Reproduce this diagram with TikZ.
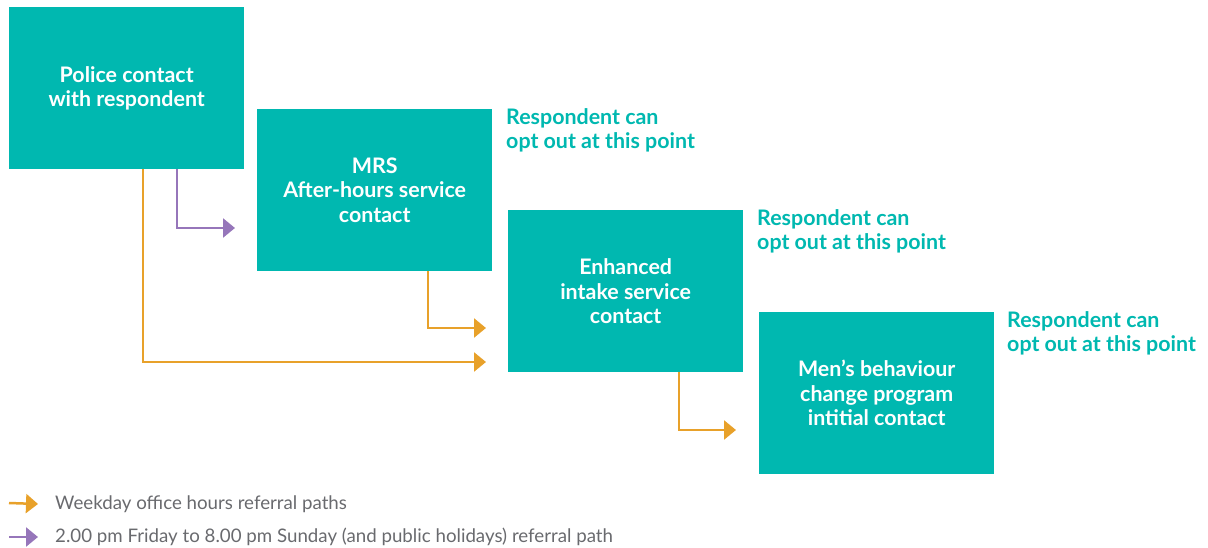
\documentclass[tikz,border=0pt]{standalone}
\usepackage{fontspec}
\setmainfont{Lato}
\usetikzlibrary{arrows.meta,positioning}
\definecolor{teal}{RGB}{0,184,176}
\definecolor{orng}{RGB}{232,161,42}
\definecolor{purp}{RGB}{150,118,186}
\definecolor{legtxt}{RGB}{105,106,110}
\tikzset{
  box/.style={fill=teal,draw=none,minimum width=235pt,minimum height=162pt,
    anchor=north west,align=center,text=white,inner sep=0pt,
    font=\fontsize{21.4}{24.5}\selectfont\bfseries},
  note/.style={anchor=north west,align=left,text=teal,inner sep=0pt,
    font=\fontsize{21.4}{24.5}\selectfont\bfseries},
  legend/.style={anchor=west,text=legtxt,inner sep=0pt,
    font=\fontsize{18.7}{22}\selectfont},
  path/.style={line width=2.5pt,-{Triangle[length=12pt,width=19pt]}},
  orangearr/.style={path,draw=orng},
  purplearr/.style={path,draw=purp},
}
\begin{document}
\begin{tikzpicture}[x=1pt,y=-1pt]
  \useasboundingbox (0,0) rectangle (1208,548);

  % boxes
  \node [box] (police) at (9,7) {Police contact\\with respondent};
  \node [box] (mrs) at (257,109) {MRS\\After-hours service\\contact};
  \node [box] (intake) at (508,210) {Enhanced\\intake service\\contact};
  \node [box] (mbcp) at (759,312) {Men’s behaviour\\change program\\intitial contact};

  % opt out notes
  \node [note] (n1) at (506,108) {Respondent can\\opt out at this point};
  \node [note] (n2) at (757,209) {Respondent can\\opt out at this point};
  \node [note] (n3) at (1007,311) {Respondent can\\opt out at this point};

  % arrow ends
  \coordinate (e1) at (235,228);
  \coordinate (e2) at (486,362);
  \coordinate (e3) at (486,328);
  \coordinate (e4) at (736,430);

  \draw [purplearr] ([xshift=168pt]police.south west) |- (e1);
  \draw [orangearr] ([xshift=134pt]police.south west) |- (e2);
  \draw [orangearr] ([xshift=171pt]mrs.south west) |- (e3);
  \draw [orangearr] ([xshift=171pt]intake.south west) |- (e4);

  % legend
  \node [legend] (l1) at (55,504) {Weekday office hours referral paths};
  \node [legend] (l2) at (55,537) {2.00 pm Friday to 8.00 pm Sunday (and public holidays) referral path};
  \coordinate (l1s) at (9,503);
  \coordinate (l2s) at (9,537);
  \draw [orangearr] (l1s) -- ([xshift=-17pt]l1.west);
  \draw [purplearr] (l2s) -- ([xshift=-17pt]l2.west);
\end{tikzpicture}
\end{document}
